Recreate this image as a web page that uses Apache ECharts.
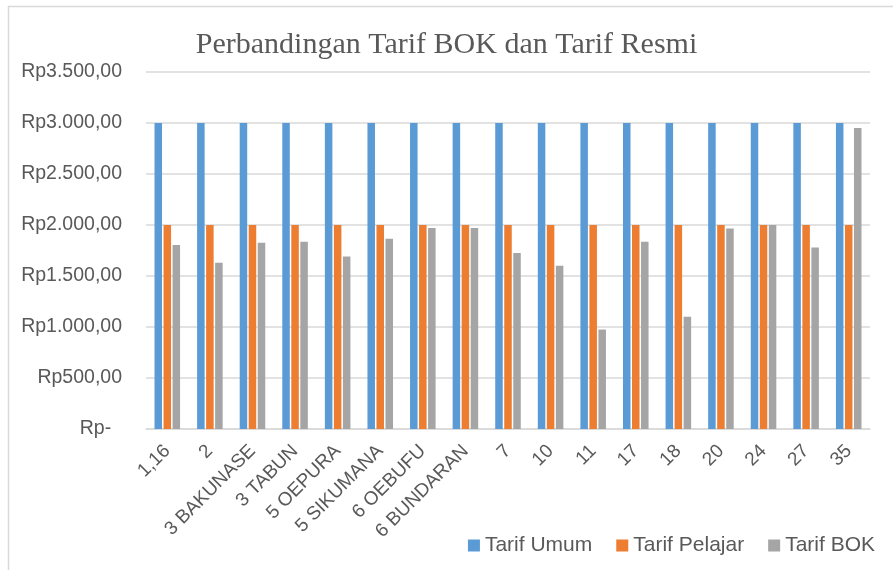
<!DOCTYPE html>
<html>
<head>
<meta charset="utf-8">
<script src="https://cdn.jsdelivr.net/npm/echarts@6/dist/echarts.min.js"></script>
<style>
  html, body { margin: 0; padding: 0; background: #fff; }
  #chart { width: 893px; height: 570px; }
</style>
</head>
<body>
<div id="chart"></div>
<script>
// categories (route names)
const routes = ['1,16', '2', '3 BAKUNASE', '3 TABUN', '5 OEPURA', '5 SIKUMANA', '6 OEBUFU', '6 BUNDARAN',
  '7', '10', '11', '17', '18', '20', '24', '27', '35'];
const tarifUmum = [3000, 3000, 3000, 3000, 3000, 3000, 3000, 3000, 3000, 3000, 3000, 3000, 3000, 3000, 3000, 3000, 3000];
const tarifPelajar = [2000, 2000, 2000, 2000, 2000, 2000, 2000, 2000, 2000, 2000, 2000, 2000, 2000, 2000, 2000, 2000, 2000];
const tarifBOK = [1805, 1630, 1825, 1835, 1690, 1865, 1970, 1970, 1725, 1600, 975, 1835, 1100, 1965, 2000, 1780, 2950];

const txt = '#595959';
const fnt = '"Liberation Sans", Arial, sans-serif';

function rp(v) {
  if (v === 0) return 'Rp-  ';
  let s = String(v).replace(/\B(?=(\d{3})+(?!\d))/g, '.');
  return 'Rp' + s + ',00';
}

const chart = echarts.init(document.getElementById('chart'));
chart.setOption({
  animation: false,
  color: ['#5b9bd5', '#ed7d31', '#a5a5a5'],
  title: {
    text: 'Perbandingan Tarif BOK dan Tarif Resmi',
    left: 'center',
    top: 25,
    textStyle: { fontFamily: '"Liberation Serif", "Times New Roman", serif', fontSize: 30, fontWeight: 'normal', color: txt }
  },
  graphic: [{
    type: 'rect',
    shape: { x: 8.5, y: 6.5, width: 1000, height: 1000 },
    style: { fill: 'none', stroke: '#d9d9d9', lineWidth: 1.5 },
    silent: true
  }],
  legend: {
    right: 13,
    top: 530,
    itemWidth: 12,
    itemHeight: 12,
    itemGap: 24,
    icon: 'rect',
    textStyle: { fontFamily: fnt, fontSize: 21, color: txt }
  },
  grid: { left: 146, right: 23, top: 72, bottom: 141 },
  xAxis: {
    type: 'category',
    data: routes,
    axisLine: { lineStyle: { color: '#d9d9d9', width: 1.5 } },
    axisTick: { show: false },
    axisLabel: { rotate: 45, interval: 0, margin: 19, fontFamily: fnt, fontSize: 19, color: txt }
  },
  yAxis: {
    type: 'value',
    min: 0,
    max: 3500,
    interval: 500,
    axisLine: { show: false },
    axisTick: { show: false },
    splitLine: { lineStyle: { color: '#d9d9d9', width: 1.5 } },
    axisLabel: { margin: 24, fontFamily: fnt, fontSize: 19.5, color: txt, formatter: rp }
  },
  series: [
    { name: 'Tarif Umum', type: 'bar', data: tarifUmum, barGap: '20%', barCategoryGap: '40%' },
    { name: 'Tarif Pelajar', type: 'bar', data: tarifPelajar },
    { name: 'Tarif BOK', type: 'bar', data: tarifBOK }
  ]
});
</script>
</body>
</html>
